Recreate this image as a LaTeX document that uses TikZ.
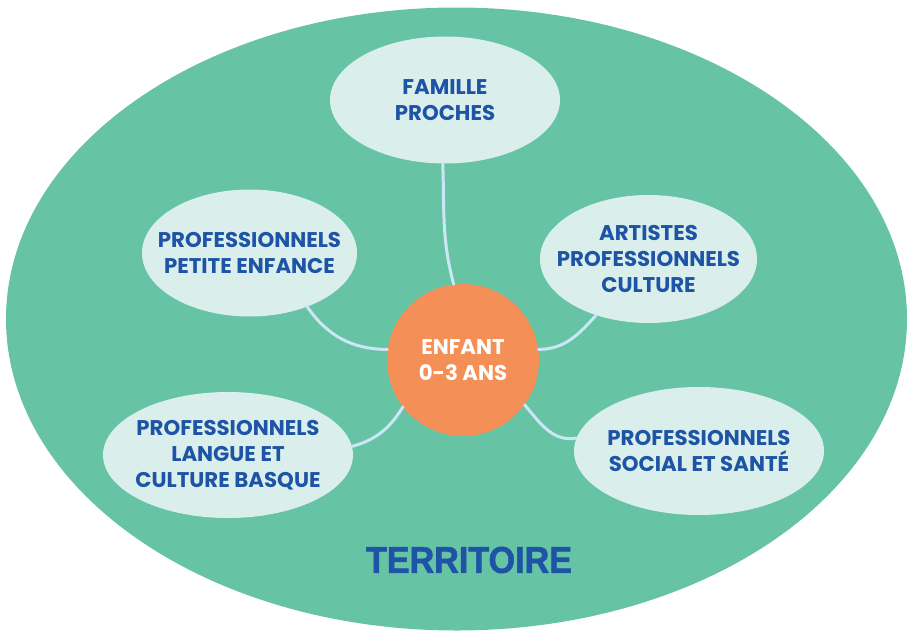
\documentclass[tikz,border=0pt]{standalone}
\usepackage{fontspec}
\setmainfont{Poppins}
\newfontfamily\terrfont{Liberation Sans}[BoldFont={Liberation Sans Bold}, BoldFeatures={FakeBold=1.6}]
\usetikzlibrary{shapes.geometric}
\definecolor{terrgreen}{HTML}{66C4A5}
\definecolor{bubble}{HTML}{DAEEEC}
\definecolor{childorange}{HTML}{F48F58}
\definecolor{txtblue}{HTML}{1E54A5}
\definecolor{linkblue}{HTML}{CBE6F4}
\tikzset{
  bubblenode/.style={ellipse, fill=bubble, inner sep=0pt},
  bubbletext/.style={align=center, inner sep=0pt, text=txtblue,
    font=\fontsize{21.3}{26}\selectfont\bfseries},
  childnode/.style={circle, fill=childorange, inner sep=0pt, align=center,
    text=white, font=\fontsize{21.3}{26}\selectfont\bfseries},
  link/.style={draw=linkblue, line width=3pt, line cap=round}
}
\begin{document}
\begin{tikzpicture}[x=1pt,y=-1pt]
\useasboundingbox (0,0) rectangle (909,632);
\node[ellipse, fill=terrgreen, minimum width=901pt, minimum height=623pt, inner sep=0pt] (terr) at (456.5,319) {};
\node[text=txtblue] (terrlabel) at (469,560) {\resizebox{206pt}{26pt}{\terrfont\bfseries TERRITOIRE}};

\node[bubblenode, minimum width=230pt, minimum height=127pt,
  label={[bubbletext]center:{FAMILLE\\PROCHES}}] (fam) at (445,100) {};
\node[bubblenode, minimum width=215pt, minimum height=127pt,
  label={[bubbletext]center:{PROFESSIONNELS\\PETITE ENFANCE}}] (pe) at (249.5,253) {};
\node[bubblenode, minimum width=250pt, minimum height=126pt,
  label={[bubbletext]center:{PROFESSIONNELS\\LANGUE ET\\CULTURE BASQUE}}] (lg) at (228,455) {};
\node[bubblenode, minimum width=217pt, minimum height=128pt,
  label={[bubbletext]center:{ARTISTES\\PROFESSIONNELS\\CULTURE}}] (art) at (648.5,259) {};
\node[bubblenode, minimum width=250pt, minimum height=128pt,
  label={[bubbletext]center:{PROFESSIONNELS\\SOCIAL ET SANT\'E}}] (soc) at (699,451) {};
\node[childnode, minimum size=152pt] (child) at (463,360) {ENFANT\\0-3 ANS};

\draw[link] (fam.-92) to[out=-88,in=105] (child.97);
\draw[link] (pe.-43) to[out=-55,in=180] (child.172);
\draw[link] (lg.4) to[out=15,in=238] (child.218);
\draw[link] (child.8) to[out=0,in=228] (art.227);
\draw[link] (child.-36) to[out=-50,in=190] (soc.174);
\end{tikzpicture}
\end{document}
